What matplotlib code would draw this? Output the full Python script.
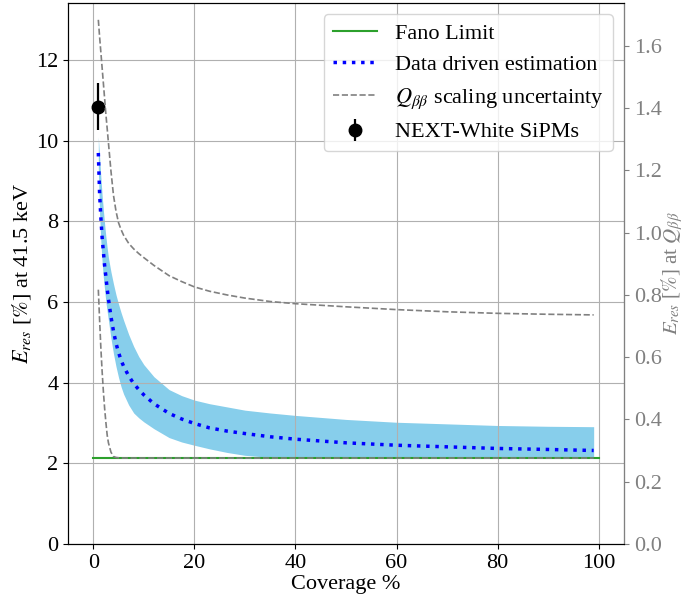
import numpy as np
import matplotlib
matplotlib.use("Agg")
import matplotlib.pyplot as plt

plt.rcParams['font.family'] = ['Liberation Serif', 'DejaVu Serif']
plt.rcParams['mathtext.fontset'] = 'stix'

# ---- data ----
coverage = [1, 1.25, 1.5, 1.75, 2, 2.25, 2.5, 2.75, 3, 3.5, 4, 4.5, 5, 5.5, 6, 7, 8, 9, 10,
            12, 15, 17.5, 20, 23, 26.5, 30, 35, 40, 50, 60, 70, 80, 90, 99]
est = [9.7, 8.7, 8.1, 7.6, 7.25, 6.9, 6.63, 6.33, 6.08, 5.64, 5.28, 4.98, 4.75, 4.56, 4.41, 4.17,
       3.98, 3.83, 3.7, 3.48, 3.24, 3.1, 2.99, 2.88, 2.8, 2.74, 2.66, 2.6, 2.51, 2.45, 2.41, 2.37,
       2.345, 2.32]
band_up = [10.1, 9.6, 9.1, 8.65, 8.28, 7.93, 7.62, 7.35, 7.1, 6.75, 6.45, 6.18, 5.95, 5.74, 5.55,
           5.2, 4.9, 4.65, 4.45, 4.15, 3.83, 3.68, 3.57, 3.48, 3.4, 3.32, 3.25, 3.19, 3.09, 3.02,
           2.98, 2.94, 2.92, 2.91]
band_low = [9.3, 8.2, 7.5, 7.0, 6.6, 6.3, 6.0, 5.77, 5.55, 5.1, 4.72, 4.4, 4.13, 3.9, 3.72,
            3.45, 3.25, 3.13, 3.03, 2.86, 2.64, 2.53, 2.45, 2.36, 2.27, 2.2, 2.15, 2.13, 2.13,
            2.13, 2.13, 2.13, 2.13, 2.13]

qbb_up = [1.684, 1.63, 1.58, 1.53, 1.48, 1.43, 1.38, 1.335, 1.289, 1.198, 1.12, 1.069, 1.032,
          1.01, 0.992, 0.966, 0.948, 0.933, 0.92, 0.895, 0.862, 0.843, 0.826, 0.812, 0.80, 0.79,
          0.779, 0.772, 0.762, 0.753, 0.746, 0.741, 0.738, 0.736]
qbb_low = [0.817, 0.72, 0.63, 0.555, 0.49, 0.435, 0.39, 0.35, 0.325, 0.295, 0.281, 0.278, 0.277,
           0.276, 0.276, 0.276, 0.276, 0.276, 0.276, 0.276, 0.276, 0.276, 0.276, 0.276, 0.276,
           0.276, 0.276, 0.276, 0.276, 0.276, 0.276, 0.276, 0.276, 0.276]

fano_cov = [0, 100]
fano_val = [2.13, 2.13]

nw_cov = [1]
nw_val = [10.85]
nw_err = [0.58]

# ---- figure ----
fig = plt.figure(figsize=(6.84, 6.01), dpi=100)
ax = fig.add_axes([68/684, 1-544/601, (624-68)/684, (544-3)/601])
ax2 = ax.twinx()

ax.fill_between(coverage, band_low, band_up, color='skyblue', lw=0, zorder=1)
l_fano, = ax.plot(fano_cov, fano_val, color='tab:green', lw=1.5, zorder=2, label='Fano Limit')
l_est, = ax.plot(coverage, est, color='blue', ls=':', lw=2.5, zorder=3,
                 label='Data driven estimation')
eb = ax.errorbar(nw_cov, nw_val, yerr=nw_err, fmt='o', color='black', ms=9, elinewidth=1.6,
                 zorder=4, label='NEXT-White SiPMs')

l_q, = ax2.plot(coverage, qbb_up, color='gray', ls='--', lw=1.2,
                label=r'$Q_{\beta\beta}$ scaling uncertainty')
ax2.plot(coverage, qbb_low, color='gray', ls='--', lw=1.2)

ax.set_xlim(-5, 105)
ax.set_ylim(0, 13.42)
ax2.set_ylim(0, 1.738)
ax.set_xticks([0, 20, 40, 60, 80, 100])
ax.set_yticks([0, 2, 4, 6, 8, 10, 12])
ax2.set_yticks([0.0, 0.2, 0.4, 0.6, 0.8, 1.0, 1.2, 1.4, 1.6])
ax.grid(True, color='#b0b0b0', lw=0.8)

fs = 16
ax.tick_params(labelsize=fs)
ax2.tick_params(labelsize=fs, colors='gray')
ax2.spines['right'].set_color('gray')
ax.set_xlabel('Coverage %', fontsize=fs, labelpad=2)
ax.set_ylabel(r'$E_{res}$ [$\%$] at 41.5 keV', fontsize=fs, labelpad=2)
ax2.set_ylabel(r'$E_{res}$ [$\%$] at $Q_{\beta\beta}$', fontsize=15, color='gray')
ax2.yaxis.set_label_coords((659 - 68) / 556, 0.5)

ax2.legend([l_fano, l_est, l_q, eb],
           ['Fano Limit', 'Data driven estimation', r'$Q_{\beta\beta}$ scaling uncertainty',
            'NEXT-White SiPMs'],
           loc='upper right', fontsize=fs)

fig.savefig('out.png', dpi=100)
